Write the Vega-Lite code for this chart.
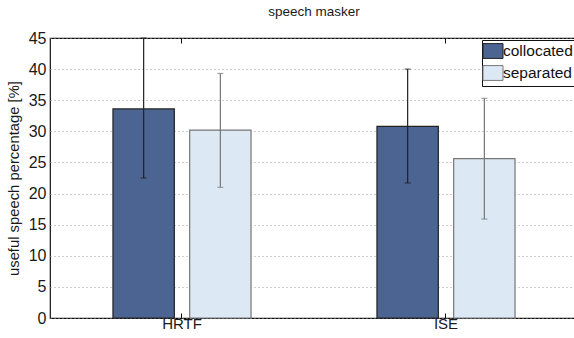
{
  "$schema": "https://vega.github.io/schema/vega-lite/v6.json",
  "autosize": "none",
  "width": 528,
  "height": 280,
  "padding": {"left": 50, "top": 38, "right": 0, "bottom": 20},
  "background": "white",
  "config": {
    "font": "Liberation Sans",
    "view": {"stroke": "#111", "strokeWidth": 1.2},
    "axis": {"labelFont": "Liberation Sans", "titleFont": "Liberation Sans", "labelColor": "#1a1a1a", "titleColor": "#1a1a1a", "domainColor": "#111", "tickColor": "#111"},
    "axisY": {"labelOverlap": false}
  },
  "title": {"text": "speech masker", "fontSize": 13.5, "fontWeight": "normal", "color": "#1a1a1a", "font": "Liberation Sans", "offset": 12},
  "data": {"values": [
    {"condition": "HRTF", "group": "collocated", "value": 33.6, "lo": 22.5, "hi": 45.0},
    {"condition": "HRTF", "group": "separated", "value": 30.2, "lo": 21.0, "hi": 39.3},
    {"condition": "ISE", "group": "collocated", "value": 30.8, "lo": 21.7, "hi": 40.0},
    {"condition": "ISE", "group": "separated", "value": 25.6, "lo": 15.9, "hi": 35.3}
  ]},
  "resolve": {"axis": {"x": "independent"}},
  "layer": [
    {
      "mark": {"type": "bar", "strokeWidth": 1.2},
      "encoding": {
        "x": {"field": "condition", "type": "nominal", "sort": ["HRTF", "ISE"],
          "scale": {"paddingInner": 0.477, "paddingOuter": 0.2385},
          "axis": {"title": null, "labelAngle": 0, "labelFontSize": 15, "tickSize": -5, "labelPadding": 3, "domain": false}},
        "xOffset": {"field": "group", "type": "nominal", "scale": {"paddingInner": 0.2, "paddingOuter": 0}},
        "y": {"field": "value", "type": "quantitative",
          "scale": {"domain": [0, 45], "nice": false},
          "axis": {"title": "useful speech percentage [%]", "titleFontSize": 14.8, "titleFontWeight": "normal", "labelFontSize": 16, "values": [0,5,10,15,20,25,30,35,40,45], "ticks": false, "labelPadding": 4, "grid": true, "gridDash": [1, 3], "gridColor": "#999", "gridWidth": 1, "domain": false, "titlePadding": 7}},
        "fill": {"field": "group", "type": "nominal", "scale": {"domain": ["collocated", "separated"], "range": ["#4b6491", "#dde8f5"]},
          "legend": {"title": null, "orient": "top-right", "offset": 2, "labelFontSize": 15.5, "labelColor": "#111", "labelFont": "Liberation Sans", "symbolType": "M-1.35,-1L1.35,-1L1.35,1L-1.35,1Z", "symbolSize": 220, "symbolStrokeColor": "#333", "symbolStrokeWidth": 1, "strokeColor": "#111", "fillColor": "white", "padding": 3, "rowPadding": 2, "labelOffset": 2}},
        "stroke": {"field": "group", "type": "nominal", "scale": {"domain": ["collocated", "separated"], "range": ["#222222", "#777777"]}, "legend": null}
      }
    },
    {
      "mark": {"type": "rule", "strokeWidth": 1.2},
      "encoding": {
        "x": {"field": "condition", "type": "nominal", "sort": ["HRTF", "ISE"],
          "axis": {"orient": "top", "title": null, "labels": false, "domain": false, "tickSize": -5}},
        "xOffset": {"field": "group", "type": "nominal"},
        "y": {"field": "lo", "type": "quantitative",
          "axis": {"title": "useful speech percentage [%]", "titleFontSize": 14.8, "titleFontWeight": "normal", "labelFontSize": 16, "values": [0,5,10,15,20,25,30,35,40,45], "ticks": false, "labelPadding": 4, "grid": true, "gridDash": [1, 3], "gridColor": "#999", "gridWidth": 1, "domain": false, "titlePadding": 7}},
        "y2": {"field": "hi"},
        "stroke": {"field": "group", "type": "nominal", "legend": null}
      }
    },
    {
      "mark": {"type": "tick", "thickness": 1.2, "size": 6},
      "encoding": {
        "x": {"field": "condition", "type": "nominal", "sort": ["HRTF", "ISE"], "axis": null},
        "xOffset": {"field": "group", "type": "nominal"},
        "y": {"field": "lo", "type": "quantitative",
          "axis": {"title": "useful speech percentage [%]", "titleFontSize": 14.8, "titleFontWeight": "normal", "labelFontSize": 16, "values": [0,5,10,15,20,25,30,35,40,45], "ticks": false, "labelPadding": 4, "grid": true, "gridDash": [1, 3], "gridColor": "#999", "gridWidth": 1, "domain": false, "titlePadding": 7}},
        "color": {"field": "group", "type": "nominal", "scale": {"domain": ["collocated", "separated"], "range": ["#222222", "#777777"]}, "legend": null}
      }
    },
    {
      "mark": {"type": "tick", "thickness": 1.2, "size": 6},
      "encoding": {
        "x": {"field": "condition", "type": "nominal", "sort": ["HRTF", "ISE"], "axis": null},
        "xOffset": {"field": "group", "type": "nominal"},
        "y": {"field": "hi", "type": "quantitative",
          "axis": {"title": "useful speech percentage [%]", "titleFontSize": 14.8, "titleFontWeight": "normal", "labelFontSize": 16, "values": [0,5,10,15,20,25,30,35,40,45], "ticks": false, "labelPadding": 4, "grid": true, "gridDash": [1, 3], "gridColor": "#999", "gridWidth": 1, "domain": false, "titlePadding": 7}},
        "color": {"field": "group", "type": "nominal", "scale": {"domain": ["collocated", "separated"], "range": ["#222222", "#777777"]}, "legend": null}
      }
    }
  ]
}
